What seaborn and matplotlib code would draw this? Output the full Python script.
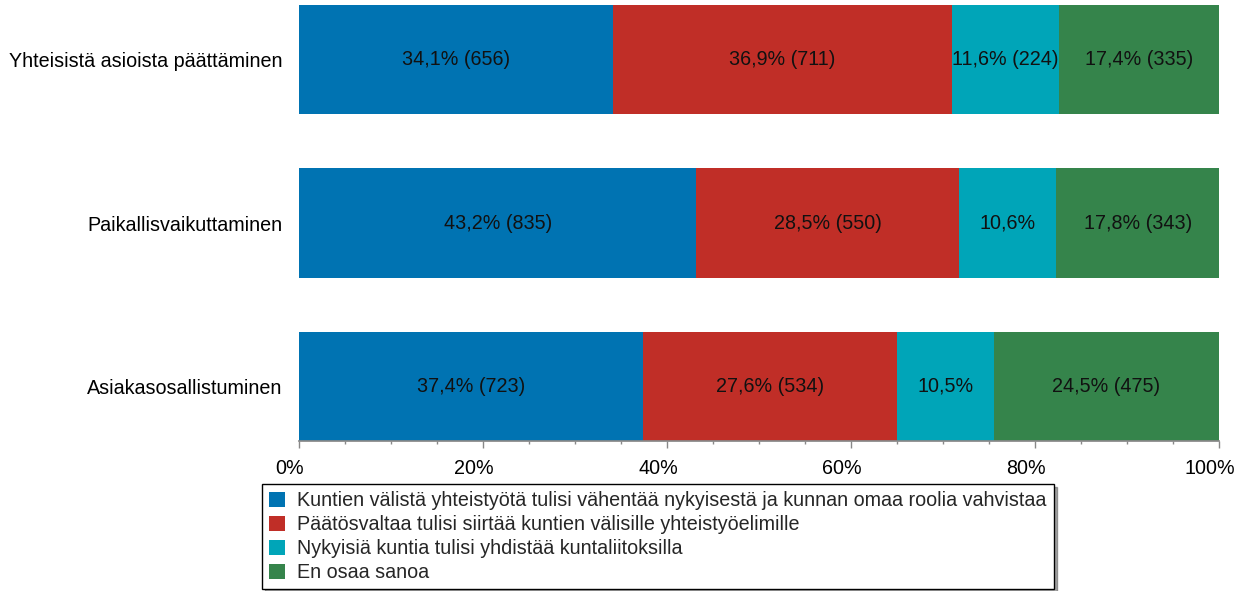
import numpy as np
import pandas as pd
import matplotlib.pyplot as plt
import matplotlib.transforms as mtransforms
from matplotlib.ticker import MultipleLocator, PercentFormatter
import seaborn as sns

# Chart data
categories = ['Yhteisistä asioista päättäminen', 'Paikallisvaikuttaminen', 'Asiakasosallistuminen']
series_names = [
    'Kuntien välistä yhteistyötä tulisi vähentää nykyisestä ja kunnan omaa roolia vahvistaa',
    'Päätösvaltaa tulisi siirtää kuntien välisille yhteistyöelimille',
    'Nykyisiä kuntia tulisi yhdistää kuntaliitoksilla',
    'En osaa sanoa',
]
pct_vahentaa = [34.1, 43.2, 37.4]
pct_siirtaa = [36.9, 28.5, 27.6]
pct_yhdistaa = [11.6, 10.6, 10.5]
pct_eos = [17.4, 17.8, 24.5]
n_vahentaa = [656, 835, 723]
n_siirtaa = [711, 550, 534]
n_yhdistaa = [224, None, None]   # count not printed on the narrow segments
n_eos = [335, 343, 475]

colors = ['#0073B2', '#C02E27', '#00A5B8', '#35844B']

pcts = [pct_vahentaa, pct_siirtaa, pct_yhdistaa, pct_eos]
counts = [n_vahentaa, n_siirtaa, n_yhdistaa, n_eos]

FS = 14.2

sns.set_theme(style='white')
plt.rcParams['font.family'] = ['Liberation Sans', 'DejaVu Sans']

fig = plt.figure(figsize=(12.47, 5.91), dpi=100)
ax = fig.add_axes([0.2398, 0.2538, 0.7377, 0.7377])

# Stacked bars: draw cumulative totals, largest first
cum = np.cumsum(np.array(pcts), axis=0)
for i in reversed(range(len(pcts))):
    df = pd.DataFrame({'kategoria': categories, 'arvo': cum[i]})
    sns.barplot(data=df, x='arvo', y='kategoria', orient='h', color=colors[i],
                width=0.667, saturation=1, linewidth=0, ax=ax, label=series_names[i])

# Segment labels
for i in range(len(pcts)):
    for j in range(len(categories)):
        center = cum[i][j] - pcts[i][j] / 2
        txt = f'{pcts[i][j]:.1f}%'.replace('.', ',')
        if counts[i][j] is not None:
            txt += f' ({counts[i][j]})'
        ax.text(center, j, txt, ha='center', va='center', fontsize=FS, color='#111111')

ax.set_xlim(0, 100)
ax.set_ylim(2.3335, -0.3335)
ax.set_xlabel('')
ax.set_ylabel('')
ax.xaxis.set_major_locator(MultipleLocator(20))
ax.xaxis.set_minor_locator(MultipleLocator(5))
ax.xaxis.set_major_formatter(PercentFormatter(decimals=0))
ax.tick_params(axis='x', which='major', bottom=True, length=5, width=1, color='#888888',
               pad=8, labelsize=FS, labelcolor='black')
ax.tick_params(axis='x', which='minor', bottom=True, length=2.5, width=1, color='#888888')
ax.tick_params(axis='y', length=0, pad=12, labelsize=FS, labelcolor='black')
for side in ['top', 'right', 'left']:
    ax.spines[side].set_visible(False)
ax.spines['bottom'].set_color('#888888')

# tick labels sit slightly left of their ticks in the original
shift = mtransforms.ScaledTranslation(-9 / 100, 0, fig.dpi_scale_trans)
for lab in ax.get_xticklabels():
    lab.set_transform(lab.get_transform() + shift)

# Legend in series order
handles, labels = ax.get_legend_handles_labels()
order = [labels.index(s) for s in series_names]
ax.legend([handles[k] for k in order], [labels[k] for k in order],
          loc='upper left', bbox_to_anchor=(0.2101, 0.181), bbox_transform=fig.transFigure,
          frameon=True, fancybox=False, shadow=True, edgecolor='black', framealpha=1,
          fontsize=FS, handlelength=0.8, handleheight=0.8, handletextpad=0.65,
          labelspacing=0.26, borderpad=0.35, borderaxespad=0)

fig.savefig('out.png', dpi=100)
